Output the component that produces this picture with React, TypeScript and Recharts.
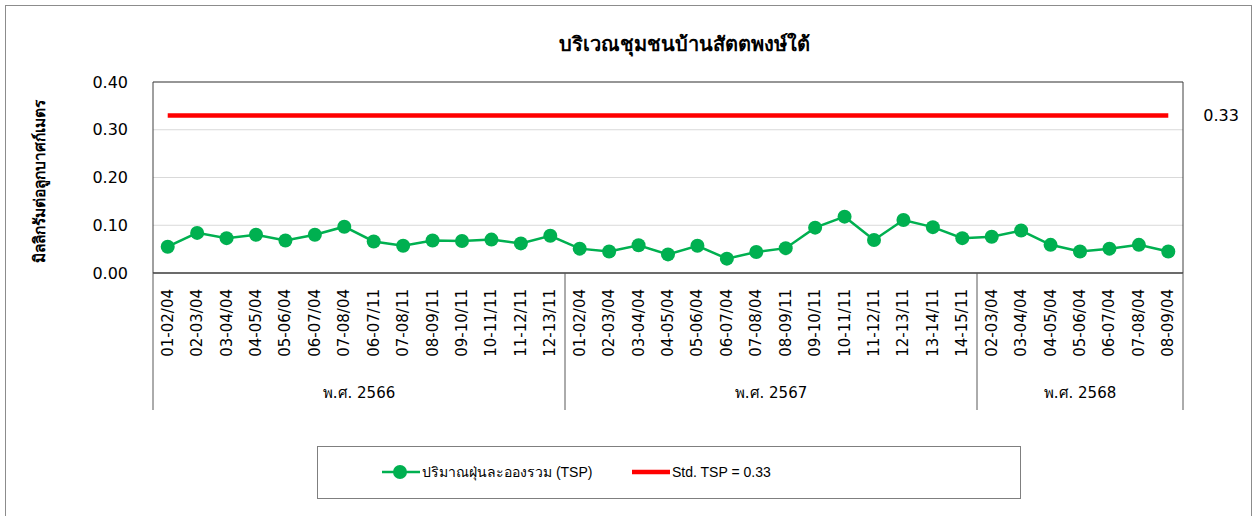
import React from 'react'
import {
  ComposedChart,
  Line,
  XAxis,
  YAxis,
  CartesianGrid,
  ReferenceLine,
  ReferenceArea,
} from 'recharts'

// ช่วงเวลาตรวจวัด แยกตามปี พ.ศ.
const years = ['พ.ศ. 2566', 'พ.ศ. 2567', 'พ.ศ. 2568']

const periods2566 = [
  '01-02/04', '02-03/04', '03-04/04', '04-05/04', '05-06/04', '06-07/04', '07-08/04',
  '06-07/11', '07-08/11', '08-09/11', '09-10/11', '10-11/11', '11-12/11', '12-13/11',
]
const periods2567 = [
  '01-02/04', '02-03/04', '03-04/04', '04-05/04', '05-06/04', '06-07/04', '07-08/04',
  '08-09/11', '09-10/11', '10-11/11', '11-12/11', '12-13/11', '13-14/11', '14-15/11',
]
const periods2568 = ['02-03/04', '03-04/04', '04-05/04', '05-06/04', '06-07/04', '07-08/04', '08-09/04']

// ปริมาณฝุ่นละอองรวม (TSP) มก./ลบ.ม.
const tsp2566 = [0.055, 0.084, 0.073, 0.08, 0.068, 0.08, 0.097, 0.066, 0.057, 0.068, 0.067, 0.07, 0.062, 0.078]
const tsp2567 = [0.051, 0.045, 0.058, 0.039, 0.057, 0.03, 0.044, 0.052, 0.095, 0.118, 0.069, 0.111, 0.096, 0.073]
const tsp2568 = [0.076, 0.089, 0.059, 0.045, 0.051, 0.059, 0.045]

const STD_TSP = 0.33
const yTicks = [0, 0.1, 0.2, 0.3, 0.4]

const groups = [
  { year: years[0], periods: periods2566, values: tsp2566 },
  { year: years[1], periods: periods2567, values: tsp2567 },
  { year: years[2], periods: periods2568, values: tsp2568 },
]

const data = groups.flatMap((g) =>
  g.periods.map((p, i) => ({ key: `${g.year} ${p}`, label: p, year: g.year, tsp: g.values[i] })),
)

const FONT = 'Tahoma, "DejaVu Sans", "Noto Sans", sans-serif'
const LEGEND_FONT = 'Tahoma, "Liberation Sans", Arial, sans-serif'
const GREEN = '#00B050'
const RED = '#FF0000'

const W = 1253
const H = 516
const MARGIN = { top: 82, right: 70, left: 93, bottom: 103 }
const Y_AXIS_W = 60
const PLOT_LEFT = MARGIN.left + Y_AXIS_W
const PLOT_W = W - PLOT_LEFT - MARGIN.right
const PLOT_BOTTOM = 273
const BAND = PLOT_W / data.length

function PeriodTick(props: any) {
  const { x, index } = props
  return (
    <text
      transform={`translate(${x},${PLOT_BOTTOM + 16}) rotate(-90)`}
      textAnchor="end"
      dominantBaseline="central"
      fontSize={15}
      fontFamily={FONT}
      fill="#000"
    >
      {data[index]?.label}
    </text>
  )
}

function YearTick(props: any) {
  const { x, index } = props
  const row = data[index]
  if (!row) return null
  const isFirst = index === 0 || data[index - 1].year !== row.year
  const isLast = index === data.length - 1
  const count = data.filter((d) => d.year === row.year).length
  return (
    <g>
      {isFirst && (
        <>
          <line x1={x - BAND / 2} x2={x - BAND / 2} y1={PLOT_BOTTOM} y2={410} stroke="#595959" />
          <text
            x={x + ((count - 1) * BAND) / 2}
            y={393}
            textAnchor="middle"
            dominantBaseline="central"
            fontSize={15}
            fontFamily={FONT}
            fill="#000"
          >
            {row.year}
          </text>
        </>
      )}
      {isLast && <line x1={x + BAND / 2} x2={x + BAND / 2} y1={PLOT_BOTTOM} y2={410} stroke="#595959" />}
    </g>
  )
}

function YLabel(props: any) {
  const { viewBox } = props
  const cx = viewBox.x - 53
  const cy = 181
  return (
    <text
      transform={`translate(${cx},${cy}) rotate(-90)`}
      textAnchor="middle"
      dominantBaseline="central"
      fontSize={15.5}
      fontWeight="bold"
      fontFamily={FONT}
      fill="#000"
    >
      มิลลิกรัมต่อลูกบาศก์เมตร
    </text>
  )
}

function LegendBox() {
  return (
    <div
      style={{
        position: 'absolute',
        left: 317,
        top: 446,
        width: 702,
        height: 51,
        border: '1px solid #7f7f7f',
        fontFamily: LEGEND_FONT,
        fontSize: 14,
        color: '#000',
      }}
    >
      <div style={{ position: 'absolute', left: 63, top: 13, display: 'flex', alignItems: 'center' }}>
        <svg width={40} height={24}>
          <line x1={1} x2={39} y1={12} y2={12} stroke={GREEN} strokeWidth={2.5} />
          <circle cx={19} cy={12} r={7} fill={GREEN} />
        </svg>
        <span style={{ marginLeft: 1 }}>ปริมาณฝุ่นละอองรวม (TSP)</span>
      </div>
      <div style={{ position: 'absolute', left: 313, top: 13, display: 'flex', alignItems: 'center' }}>
        <svg width={40} height={24}>
          <line x1={1} x2={39} y1={12} y2={12} stroke={RED} strokeWidth={4.5} />
        </svg>
        <span style={{ marginLeft: 1 }}>Std. TSP = {STD_TSP.toFixed(2)}</span>
      </div>
    </div>
  )
}

export default function App() {
  return (
    <div
      style={{
        position: 'absolute',
        left: 0,
        top: 0,
        width: W,
        height: H,
        overflow: 'hidden',
        background: '#fff',
      }}
    >
      <div
        style={{
          position: 'absolute',
          left: 5,
          top: 5,
          width: 1245,
          height: 600,
          border: '1px solid #8c8c8c',
        }}
      />
      <div
        style={{
          position: 'absolute',
          left: 0,
          top: 28,
          width: 1368,
          textAlign: 'center',
          fontFamily: FONT,
          fontSize: 20,
          fontWeight: 'bold',
          color: '#000',
        }}
      >
        บริเวณชุมชนบ้านสัตตพงษ์ใต้
      </div>
      <div style={{ position: 'absolute', left: 0, top: 0 }}>
        <ComposedChart width={W} height={H} data={data} margin={MARGIN}>
          <CartesianGrid vertical={false} stroke="#d9d9d9" />
          <XAxis
            dataKey="key"
            scale="band"
            interval={0}
            tickLine={false}
            axisLine={{ stroke: '#404040' }}
            height={90}
            tick={(p: any) => <PeriodTick {...p} />}
          />
          <XAxis
            xAxisId="year"
            dataKey="key"
            scale="band"
            interval={0}
            tickLine={false}
            axisLine={false}
            height={50}
            tick={(p: any) => <YearTick {...p} />}
          />
          <YAxis
            width={Y_AXIS_W}
            domain={[0, 0.4]}
            ticks={yTicks}
            axisLine={false}
            tickLine={false}
            tickSize={6}
            tickMargin={19}
            tickFormatter={(v: number) => v.toFixed(2)}
            tick={{ fontSize: 16, fill: '#000', fontFamily: FONT }}
            label={(p: any) => <YLabel {...p} />}
          />
          <ReferenceArea y1={0} y2={0.4} fill="none" stroke="#404040" strokeWidth={1} ifOverflow="visible" />
          <ReferenceLine
            segment={[
              { x: data[0].key, y: STD_TSP },
              { x: data[data.length - 1].key, y: STD_TSP },
            ]}
            stroke={RED}
            strokeWidth={4.5}
            label={{ value: STD_TSP.toFixed(2), position: 'right', offset: 35, fill: '#000', fontSize: 16, fontFamily: FONT }}
          />
          <Line
            type="linear"
            dataKey="tsp"
            stroke={GREEN}
            strokeWidth={2.5}
            dot={{ r: 7, fill: GREEN, stroke: 'none' }}
            activeDot={false}
            isAnimationActive={false}
          />
        </ComposedChart>
      </div>
      <LegendBox />
    </div>
  )
}
